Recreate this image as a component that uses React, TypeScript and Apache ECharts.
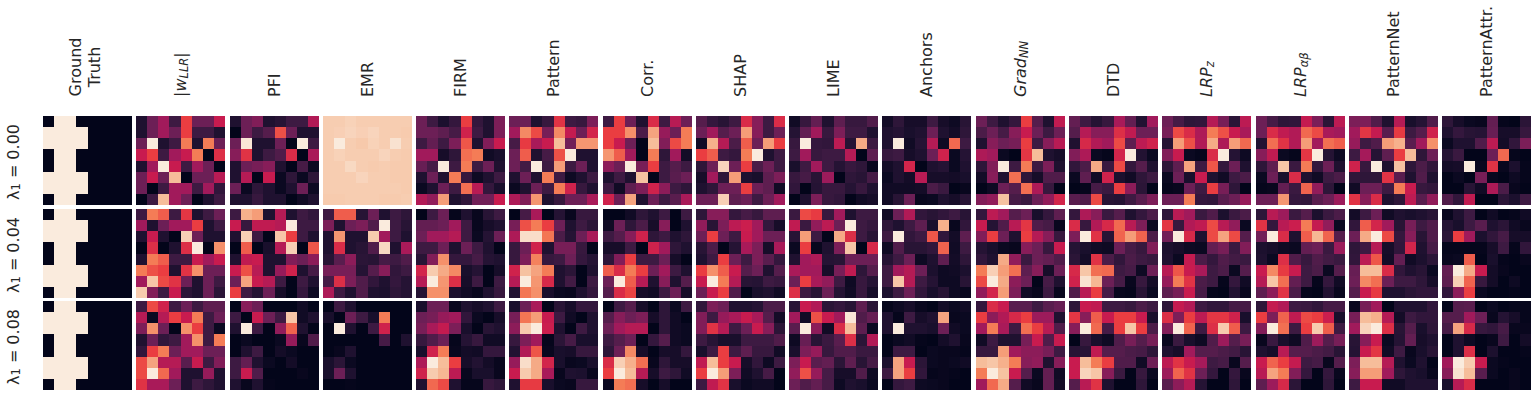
import React, { useEffect, useRef } from "react";
import * as echarts from "echarts";

const rocket = ["#03051a","#1f1130","#3d1a42","#6c1f56","#a11a5b","#c81b4f","#ea3d41","#f47c56","#f6bd9a","#faebdd"];

const groundTruth = [
[0,9,9,0,0,0,0,0],[9,9,9,9,0,0,0,0],[9,9,9,9,0,0,0,0],[0,9,9,0,0,0,0,0],
[0,9,9,0,0,0,0,0],[9,9,9,9,0,0,0,0],[9,9,9,9,0,0,0,0],[0,9,9,0,0,0,0,0]];

const wLLR0=[[1,3,4,2,6,3,3,5],[1,3,4,3,6,2,2,1],[3,9,1,2,7,1,7,3],[5,6,2,4,5,7,0,5.6],[1,4,9,5,2,4,3,0],[3,5,3,8,0,3,3,4.6],[3,0,2,4,4,2,4,1.6],[0,2,8,4,3,0,1,2]];
const wLLR1=[[2,7,6.5,2,5.8,1,2,3],[4,1,3,4,4,6,1,2],[1,5,1,0,8.4,3,1,1],[0,5.6,0,1,5.6,9,0,7.3],[1,7,6.5,2,2,5,4,5],[7,6.3,6,1,5.7,7.3,3,3],[4,8.2,6.2,5.7,3,1,3,2],[8.3,3.4,2,5,1.4,1,3,1.4]];
const wLLR2=[[2,6.2,5.2,2,3,2,2.7,2.7],[4.5,0.3,4.5,6,5,7,2,3],[3.3,7.3,3,0,7.3,6,2,0.3],[1,3,1.6,2,4,7.3,2,7],[1.6,6,7,3,4,4,3,3],[6.2,7.6,4.5,4.5,2.6,5,2,3.4],[6.2,9,6.7,4,1,1,3.8,1],[5.7,4.2,4.2,3,1,2,1.5,1]];
const pfi0=[[1,3,3.4,1,1.3,2,2,4.4],[0,3,2,2.5,6.3,3,1,1],[3,8.9,1,1,3,0,9,2],[3.5,5.7,1,2,2.4,5.5,0,4.2],[1,3,3.2,3.5,1,0,2.2,0.3],[1,4.5,0,5,0.3,1.5,0.3,1.5],[3,0.3,1.5,1,0.3,1,3,0.4],[1,1,1.8,1,1,0,0.5,1]];
const pfi1=[[2,7.8,7.5,1,4.5,1,2,1.6],[5,1.8,4.8,4.8,4.5,9,2,2],[1,8.4,2,0,8.2,6,2,1],[0,6.5,0,0.8,4.5,8.4,0,6.4],[1,4.8,5,1,1,3.4,3,3.6],[5,6.3,4.6,1,3.8,5.2,1,2.2],[3,7.6,5,4.5,2,0,2,1],[6,2,1.2,3,0.7,0,1.7,0.4]];
const pfi2=[[0,3.5,3,0,0,0,0.5,0],[2,0,5,3,2,8.2,0.5,1],[1,9,2,0,3.7,6.6,1,0],[0,0.3,0,0,0.3,3.8,0.2,2.4],[0,1,2,0,0.6,0.3,0,0],[2,2.8,1,0.3,0,0.6,0,0],[2,5,2.4,0,0,0,0.2,0],[1,0.2,1,0.1,0,0,0,0]];
const emr0=[[8.35,8.35,8.45,8.35,8.35,8.35,8.35,8.35],[8.35,8.4,8.5,8.4,8.5,8.35,8.35,8.3],[8.35,9,8.35,8.25,8.45,8.35,8.8,8.35],[8.35,8.45,8.35,8.35,8.35,8.5,8.35,8.3],[8.35,8.35,8.6,8.35,8.3,8.35,8.3,8.3],[8.35,8.35,8.35,8.5,8.35,8.35,8.3,8.3],[8.35,8.35,8.35,8.35,8.35,8.35,8.35,8.3],[8.3,8.3,8.35,8.35,8.35,8.3,8.3,8.35]];
const emr1=[[2,6.5,6.5,1.3,3,1,2,1.5],[3.3,1,3,3.3,2.4,9,2,1.3],[1,7.4,1,1,8.3,4,2,1],[1,5.5,1,1.3,2.4,8.6,1,4.2],[1.3,2.6,3.6,1.4,1.3,2.2,2,2.4],[3.2,3.2,3.2,1.2,2.5,3.5,1.6,2],[2.2,5.6,3.3,2.4,1.6,1,1.7,1.2],[4.3,2,1,2.4,1,0.9,1.5,1.2]];
const emr2=[[0,2,1,0,0,0,0,0],[0.8,0,3,2,0.8,7,0,0],[0,9,1,0,2,5.2,0,0],[0,0,0,0,0,2.2,0,1],[0,0.2,1,0,0,0,0,0],[0.8,1.4,0.3,0,0,0,0,0],[0.8,3,1,0,0,0,0,0],[0,0,0.1,0,0,0,0,0]];
const firm0=[[3,2,0.9,1.7,6,1.7,1,3.3],[3,3,2.7,2.2,5.2,2,1,3.3],[2,2.8,2,3.3,6.4,1,3.4,5],[4,4,0.7,1.5,6.8,7,0.5,0.8],[2.9,2.2,9,2,7,2,3,1],[1,3,1,7,1.7,0.4,1,2],[0.3,1,3,2,6.8,4.6,1.7,0.8],[4.4,3.7,7.5,1,1.6,3.1,3.1,5]];
const firm1=[[0,2,3,0.1,1,0.2,1.3,2],[2.8,2.8,3,4,2,0.2,0.7,1],[3,4,4,4.5,2,0.3,1.2,3],[2,2,3,1,3,2,1,0],[1.3,3.4,7.3,1.7,1.7,2.2,1.2,1],[5.3,8.3,7.7,7.2,0.8,1.2,0,0.7],[4.5,9,7.4,5.6,0.7,2,0,2],[1.2,7.3,7.3,0.9,0.5,0.2,1,1.8]];
const firm2=[[0.8,3,3,0.2,1,0.7,1,2],[3,3.2,3.8,4,1.6,0.3,0,0.7],[3.2,4.2,4.9,3.3,0.8,0,1.3,1],[1.8,2.4,3,0.1,1.2,1.8,0.5,0.5],[0.8,5.2,7,0.2,0.6,0.5,1.7,1.7],[4.3,9,8,6,0.7,1.1,0.6,0.2],[5.2,8.3,7.9,4.7,0.2,0.8,0.8,0.2],[1,6.7,6.2,1,0.1,0.1,1.8,1.5]];
const pattern0=[[3,3,1,1.8,5.7,2,1.8,3.3],[4,7.2,6.2,3.2,7.2,4.9,3,5.3],[2.2,5.9,4.2,5,8,3.1,7.4,7.4],[3,6.5,1,2.2,6.3,9,1,1],[3,2.1,9,2,7.5,2,3,1],[1,3,1,7,2,0.4,1,2],[0.3,1,3,2,7,5.2,1.8,1],[4.3,3.4,7.4,1,1.8,3,3,4.2]];
const pattern1=[[0,2.2,4.2,0,1.2,0.2,1.8,1.8],[3.2,6.3,7,6,3,1,2,1.4],[4.3,8.7,8.7,6.9,2.3,1.2,3,4.2],[1.8,3,5.2,1,3.2,3.2,1.8,0],[1.8,3.3,7.1,1.8,2,3,1.7,1.2],[5.2,8.1,7.6,7,1,1.4,0,1],[4.5,9,7.4,5.4,1,2.1,0,2],[1.1,6.9,7.3,0.8,0.3,0.2,1,1.7]];
const pattern2=[[0.8,3,4.2,0,1.3,0.7,1.7,1.7],[3.2,6.9,7.5,5,2,0.5,0,1],[3.6,8.3,9,5.1,1,0,2,1],[1.8,3.3,4,0.1,1.4,2.2,0.8,0.8],[1.1,4.4,6.4,0.2,0.8,0.7,1.8,1.8],[3.8,8.7,7.7,5.3,0.8,0.2,0.3,0.8],[5,8.3,7.7,4.2,0.2,1,0.9,0.2],[1,5.9,5.9,0.8,0.3,0.2,1.8,1.8]];
const corr0=[[2,6,3,1,5.5,2,4.6,3],[6,6,7.3,2.3,7.6,3.8,3,7],[6,5,3,0,8,3.4,6.2,7],[7.4,6.5,4,0,7,1.5,4,0.6],[3.6,3,9,3.2,6,2,2.5,2],[1,2,1,8.1,0,2,2.6,3],[2,0.5,2.7,3.3,5.2,3.6,2,1.5],[5.2,3,7.6,1,3,2,2.6,4.2]];
const corr1=[[0,0,0.5,1.5,1,2,0,2],[0.5,3,1.5,2.3,0.7,3.5,0,1],[2,2.5,3.5,5.2,1.5,2,1,1.5],[0.7,0.7,2,0,5.2,4,1.5,1],[1.5,3.4,6,2,2,3,0.7,0],[6.5,5.5,7,6,3,4,2,1],[3,9,6.5,4.5,1,3.5,1,2.5],[2.5,5.5,6.1,0.7,0.5,2,3,0.7]];
const corr2=[[0,2,2.5,0.7,0,1.5,0.3,2],[2.5,3.5,3,3.3,0.7,1.5,0.5,0],[3,4,4.5,4.5,0,1.5,0.5,0.3],[2,2.5,3,0,1.7,2.5,0.5,0.3],[1.5,3,7.2,0.7,0,0.7,0.7,1.7],[5.5,8.4,7.8,6.8,0.2,1.5,0.7,0.7],[6,9,8,4.5,0.7,2,1.5,0.5],[0.3,7,6.8,0.7,0,0.7,0,0]];
const shap0=[[2.5,1.7,1.3,2,5.5,3.5,2,5.5],[3,4,2.5,3,7.5,3.5,2,3],[0.5,7.8,4.5,2.3,6.5,3,7.5,6],[6,6.5,2,1.7,7,9,1,2],[1.5,3,8.5,3,6,2.3,3,2],[0.7,4,1.5,7.5,1,0.8,2.7,3.3],[1,1.5,3,3,6,3,2.7,0.5],[3,3,8.4,2.7,3,2,3,4]];
const shap1=[[1.5,3.5,3.5,1.7,2.2,1.8,2.7,2.7],[3.7,1.3,3.3,4.7,5.1,4,1.7,0.7],[3,6,3,2,5,4,3,3],[1.3,2.3,0,1.2,4.2,3.3,0.7,4.2],[1,2,6,3,2,3.3,2.6,1.7],[6,7.3,6.5,5,2.5,3,1,2.5],[5,9,7,4.5,1.3,1.2,2,1.8],[3,5,6,2.4,0,0.8,1,0.5]];
const shap2=[[1.6,3.3,3,1,1,1.2,2.3,2.3],[3.4,2,3.8,4.2,5,4.2,2.5,0.6],[3.4,5.7,4.5,2,3,5,3.5,1.4],[2,1.3,0.8,0.8,2,2,2,2.4],[0.8,2,6,2,2.7,1.8,1.8,0.5],[4.8,8,6,5,0.7,1.6,0.4,2],[6,9,7.5,3.3,0.5,1,2.2,0],[2,4.8,5.7,0.8,0.3,0.5,0.5,0]];
const lime0=[[0.5,1.8,2.8,1,2.7,1.8,1.8,2.4],[1.2,2.8,4,1.8,3.3,2,2,1],[1.8,9,1.7,1.6,4.7,1.2,7.7,2],[2,4,1.8,2,2,4.5,0,2.7],[0.8,2,4,2,1.2,1.8,1.5,0.2],[1.8,2.2,1.3,3.9,0,1.5,1.3,2.2],[1.6,0,1.2,1.8,1.8,1.2,1.8,1],[0,1,3.3,1.8,1.6,0,0.5,0.7]];
const lime1=[[1.9,6.2,5.9,1.8,4,1,2,2],[4.8,1.9,3.7,4.7,3,9,2,1.7],[1.3,7.5,2,0,7.7,5.6,2,1.3],[0.3,6,0.2,1,3.3,8.2,0,5.4],[1,4,4.3,1.2,1.3,3,3,3],[4.2,4,4,0.7,3.2,4.8,1.5,2.5],[3,6,4.2,3.7,2,0.4,1.8,1.2],[5.6,2,1.3,3,1.2,0.5,1.8,0.7]];
const lime2=[[1.3,5,4.4,1.4,1.7,1.3,2.7,1.4],[4,0.5,6.3,5,4,8.9,2.4,2.9],[2.6,9,3.6,0.5,5.5,8,2.7,0.3],[0.4,2.9,1.3,1.9,2.6,5.6,1.4,4.4],[0.8,3.3,3.8,1.8,2.4,2.4,1.9,1.9],[3.3,5,2.6,2.8,1.4,2.7,1.3,2.2],[3.7,6.3,3.8,2.2,0.7,0.7,2.4,0.4],[3,2.4,2.8,2.2,0.4,1,0.8,0.3]];
const anchors0=[[0.6,1.5,0.7,0.7,2,0.7,0.4,1.3],[1,1.2,0.8,1,3,1,0.6,1.5],[1,9,0.5,1.2,4.5,0.4,6.7,2],[1.8,2,0.7,1,3,5.2,0.3,1.2],[0.6,1,5.3,0,1,1.2,0.3,1],[0.3,1,0.6,4.6,0.7,0.7,0.6,0.8],[0.5,0.5,0.5,0.6,2.3,1.9,0,0.2],[0.5,1.3,3,0.2,0.3,1,0.7,1.3]];
const anchors1=[[0.5,3,4.4,1.6,1.3,1.6,2,1.3],[1.5,1,2,2.7,0.8,7.8,0.2,1.6],[2,9,1.6,2,6.4,1.6,0.6,2.7],[0.4,2.4,1.3,1.3,1.6,6.6,0.5,2],[1.2,2,3,0.4,1,2.7,0.6,1.5],[2,4,4.5,3,0.9,0.4,0.5,0.9],[2,8.2,4.5,2,1.2,0.4,0.4,1.3],[0.9,2,3,1.6,0.8,1.3,0.4,0.2]];
const anchors2=[[0.1,0.4,0.7,0.2,0,0.6,0.3,0.5],[1,0.1,2,0.7,1,7.6,0.2,0.3],[1,9,1,1,0.8,3,0.5,0.3],[0,0.3,0.5,0.1,0,0.6,1,0.2],[0,2,2,0,0.3,0.2,0.2,0.1],[0.9,7.6,5,1.4,0.3,0.2,0.3,0.5],[2,7.6,6,1.6,0.1,0.2,0.1,0],[0,1.7,2,0.4,0.3,0.2,0,0]];
const grad0=[[3,2,1,1.7,6,2.5,1,4.8],[2.3,3,2.2,3.5,5,3,2,3],[1,3.5,3,3.2,6,2,3.5,4.6],[4.3,4,0.3,0,5.8,8,1,0.7],[1.5,3.4,9,2,7,2,3.3,1],[0.6,3.5,1,6.8,1.5,0.7,2.4,2.4],[0,0.4,3,2.5,6.8,4.3,1.8,0],[3.4,3.7,8.1,2.2,1.9,3,3.7,5.3]];
const grad1=[[1.7,4.7,4,2.5,3,0.8,1.7,2.7],[5,1.2,2.4,4.6,5.8,2.4,2.2,0.2],[3.4,6,3,1,6,4.5,3.5,1.8],[1.2,0.8,0.3,0.2,3.5,3,1.8,5],[1.6,1,7.7,3.7,1.9,3,2.8,2.4],[7,8.4,7.5,6.8,2.7,3.5,0.7,3],[6.2,9,7.7,3.6,3,0,2.2,1],[3.7,5.3,7.5,3.3,0.5,0.2,2,0.2]];
const grad2=[[1.7,5.5,5,2.6,2.6,2,2.6,2.9],[6,3.6,4.4,5.4,6,3.9,3.9,1],[4,7,4.2,2,6.8,6,4.6,2.4],[0.5,2,1,1,3.2,5,2.4,5],[1.8,1.8,7.5,4,3.6,3.6,3.2,2],[8,8.2,7.8,7,3.5,3.7,1,3.5],[7,9,8.1,5,2.5,0.3,2.8,0.5],[4,6.7,7.7,2.5,0.5,0.2,2.8,0.6]];
const dtd0=[[2.8,2,1.2,1.8,4.2,2.8,1.1,4],[2.5,4.5,3.5,3.5,5.6,4.8,3,3],[1,5.4,4.4,4,6.2,2.7,4.7,5.2],[3.4,4.3,0.3,0.1,5.3,9,1.1,0.3],[1.6,2.3,7.7,1.9,6.2,1.7,2.5,1],[0.3,2.7,0.5,5.2,0.9,0.5,1.5,2],[0,0.1,2.2,1.9,6,3.6,1.4,0],[2.6,2.4,6.2,1.3,1.2,2,2.6,3.3]];
const dtd1=[[1.7,4.3,3.5,1.9,2.5,1,1.7,2.3],[5.5,1.8,4.4,5.4,6.7,4.6,3.3,0.3],[3.3,9,5.7,1.3,6.6,7.5,6.6,2.3],[1.2,0.8,0.5,0.4,3,2.2,1.8,3.4],[1.4,0.6,5.7,2.3,1.6,2.3,2,1.8],[5.4,8.2,6.8,6.7,2,2.2,0.4,3],[5.2,8.8,7.9,3,2.2,0.2,1.8,0.6],[2.4,4.6,6,2.2,0.2,0.1,1.3,0.3]];
const dtd2=[[1.5,5,4.8,2,2,1.8,2.3,2],[5.8,3.5,6.5,5,6,6,5,0.8],[3.5,9,6.7,2.2,6,8.2,6,2.3],[0,1.8,0.8,0.4,2.4,3.2,2.5,3.2],[1.3,1.3,4.8,2.5,2.5,2.3,2.2,1.5],[5,8,7,6,2.4,2.4,0.5,3],[5,8.5,8.2,3.5,1.9,0,1.8,0.3],[2.5,4.6,5.7,1,0,0,1.5,0]];
const lrpz0=[[3,2.2,1.5,1.6,4.5,3.2,1.4,4.7],[3.2,6.2,5.5,4.3,7,6.3,5,4.2],[1.2,7.5,6.3,4.4,7.7,4.3,7.5,6.7],[3.4,5,0.3,0.1,5.5,9,1.2,0.4],[1.5,2.7,7.6,2,6.4,1.7,3,1],[0.3,3,0.8,5,1,0.5,2,2.3],[0.1,0.2,3,2,6,3.2,1.5,0],[3,3,7,1.7,1.6,2.6,3,3.8]];
const lrpz1=[[1.5,4.6,4,1.9,2.4,0.9,1.9,2.3],[5.8,1.8,4.4,4.8,6.2,4.6,3.7,0.3],[3.1,9,5.4,1,6.2,7.6,6.2,2.5],[0.9,0.7,0.4,0.3,2.8,3.2,1.9,3.4],[1,0.3,4.9,2.3,1.7,2.4,2.1,1.9],[4.6,6.4,5,4.2,2,2.3,0.3,2.5],[3.8,7,5.7,2.3,2,0.1,1.7,0.5],[2.7,3.2,5,2.2,0.1,0,1.1,0.2]];
const lrpz2=[[1.5,4.9,4.4,2,1.6,1.6,2.2,2.2],[5.6,3.3,6,4.7,5.8,5.8,5.2,0.8],[3.4,9,6.6,2,5.6,8.3,6.5,2],[0.2,1.9,0.8,0.4,2.4,3.9,2.5,3.2],[1,0.7,4,2.5,2.5,2.3,2.1,1.3],[4.7,5.7,5,4.1,2,2.2,0.2,2.5],[3.9,6.6,5.7,3,1.7,0,1.7,0.2],[2.6,3.6,4.5,1.2,0,0,1.5,0]];
const lrpab0=[[3,2.2,1.5,1.6,4.9,3.3,1.4,4.7],[3,5.5,4.8,4.4,6.7,6.2,4.2,4],[1.1,6.8,5.7,4.4,7.5,4,6.8,6.5],[3.5,4.8,0.3,0.1,5.8,9,1.2,0.4],[1.5,2.7,8.2,1.9,7,1.7,3,1],[0.3,3,0.8,5.5,1,0.5,2,2.3],[0.1,0.2,2.8,1.9,6.6,3.7,1.5,0],[3,3,7.4,1.7,1.6,2.6,3,3.9]];
const lrpab1=[[1.5,4.6,3.9,1.9,2.5,0.9,1.9,2.3],[5.7,1.7,4.6,5.1,7,4.9,3.7,0.3],[3.1,9,5.5,1,6.5,7.9,6.6,2.5],[0.9,0.7,0.4,0.3,2.8,3,1.9,3.9],[1,0.3,5.6,2.4,1.8,2.4,2.1,1.9],[5,7.2,5.9,5,2,2.3,0.3,2.5],[4.5,8.2,6.8,2.8,2,0.1,1.7,0.5],[2.7,3.6,5.7,2.3,0.1,0,1.1,0.2]];
const lrpab2=[[1.5,4.9,4.4,2,1.9,1.6,2.2,2.2],[6,3.3,6.6,4.8,6.2,6,5.1,0.8],[3.4,9,6.8,2,6,8.3,6.5,2],[0.2,1.9,0.8,0.4,2.4,3.9,2.5,3.2],[1,0.7,4.6,2.5,2.5,2.3,2.1,1.3],[5,6.6,6,4.9,2,2.2,0.2,2.5],[4.6,7.6,7,3.4,1.7,0,1.7,0.2],[2.7,3.9,5.4,1.4,0,0,1.5,0]];
const pnet0=[[3.3,3.3,2.4,1,4.5,0.8,1.2,2.4],[4,5.8,4.9,2.6,5.9,2,2.5,5.2],[3.8,2,2.4,7.5,7.8,2.6,4,7.3],[2,4.1,1.2,2.7,6,8,1.5,3],[5.2,1.8,9,1,8.1,1.5,2.3,1.6],[1.5,1.5,1.5,5.7,2.6,1,2.4,1],[0.5,3,3,2,7,5,1.8,1.6],[5.7,3.5,5.5,1,1.5,4.7,2.6,3.7]];
const pnet1=[[0.6,2,3,0.5,1,0.8,1,1.3],[1.6,6.5,5.3,4,1.3,3.2,2,2.4],[3,7.7,9,6.2,1.7,3.5,1.3,2.4],[1.5,2,4.5,0.7,1.6,5.3,1,2.2],[1.6,4.7,6.4,0.6,2.8,0.5,0.9,1.4],[2.9,8,8,5.5,1.6,1,1.3,0.3],[3,7.2,6.8,3,2,2,1.5,0.7],[2.5,5,5.9,1,1,1.4,1.6,1.6]];
const pnet2=[[0.2,3.2,4,0,1,1,1,1.6],[3.2,8,7.8,4.5,0.6,2,1.6,1.6],[4,8.5,9,5.6,1.3,2.5,0.8,1.5],[1.3,3.5,5,0.3,1.2,2.8,0.7,1],[1.2,5,5.8,0.5,2,0.2,0.8,1.3],[3.3,8,8,4.5,1,0.3,1,0],[3.5,7.5,7.5,4,1.5,1,0.8,0.2],[2,5,5,0.5,0.5,1,1,1]];
const pattr0=[[1.5,0.7,0.3,0.2,2.8,0.1,0,1.4],[1,1.7,1.3,1.2,2.9,0.7,0.7,1.8],[0.3,1,1,2.4,4.7,0.6,1.6,3.3],[1.2,1.9,0,0,3,6.7,0.1,0],[0.6,0.7,9,0.2,5.7,0.2,0.9,0.1],[0,0.3,0,3.2,0.2,0,0.4,0.1],[0,0,1.3,0.5,4.3,2.3,0.2,0],[2.4,1.6,4.8,0,0,1.4,0.9,2]];
const pattr1=[[0.2,1,2,0,0.5,0,0.1,0.5],[1.2,0.8,2,2.6,1,1.4,0.5,0.2],[1.4,6,4,0.9,1.6,2.2,0.7,0.7],[0.1,0.1,0.1,0.1,0.7,2,0.1,1.6],[0.2,0.3,6.5,0,0.8,0.1,0,0.2],[2.8,9,7.7,5,0.6,0.2,0,0],[2.7,8.4,6.6,1.8,0.6,0,0.4,0],[1.6,3.6,6,0.3,0,0,0.1,0]];
const pattr2=[[0,2.5,2.6,0,0.3,0,0.1,0.1],[2.5,2.5,4,3,0.2,1.2,0.7,0.1],[2.2,7.6,5.4,1.8,1.6,2.2,0.2,0.2],[0,1,0.4,0,0.2,2,0,0.6],[0,1,5.6,0,0.9,0,0,0.1],[4,9,8.3,5,0.3,0.1,0,0],[3.5,8.8,8,2.6,0.3,0,0.2,0],[0.8,4.5,5.5,0,0,0,0.2,0]];

const panels = [
  [groundTruth, groundTruth, groundTruth],
  [wLLR0, wLLR1, wLLR2], [pfi0, pfi1, pfi2], [emr0, emr1, emr2], [firm0, firm1, firm2],
  [pattern0, pattern1, pattern2], [corr0, corr1, corr2], [shap0, shap1, shap2], [lime0, lime1, lime2],
  [anchors0, anchors1, anchors2], [grad0, grad1, grad2], [dtd0, dtd1, dtd2], [lrpz0, lrpz1, lrpz2],
  [lrpab0, lrpab1, lrpab2], [pnet0, pnet1, pnet2], [pattr0, pattr1, pattr2],
];

const columnTitles = [
  "Ground\nTruth", "|{i|w}{si|LLR}|", "PFI", "EMR", "FIRM", "Pattern", "Corr.", "SHAP", "LIME", "Anchors",
  "{i|Grad}{si|NN}", "DTD", "{i|LRP}{si|z}", "{i|LRP}{si|αβ}", "PatternNet", "PatternAttr.",
];
const rowValues = ["0.00", "0.04", "0.08"];
const cells = [0, 1, 2, 3, 4, 5, 6, 7];

const FONT = '"DejaVu Sans"';
const TEXT = "#262626";

const renderCell = (_: any, api: any) => {
  const [cx, cy] = api.coord([api.value(0), api.value(1)]);
  const [w, h] = api.size([1, 1]);
  const x0 = Math.round(cx - w / 2), x1 = Math.round(cx + w / 2);
  const y0 = Math.round(cy - h / 2), y1 = Math.round(cy + h / 2);
  return {
    type: "rect",
    shape: { x: x0, y: y0, width: x1 - x0, height: y1 - y0 },
    style: { fill: api.visual("color"), stroke: "none" },
  };
};

export default function App() {
  const ref = useRef<HTMLDivElement>(null);
  useEffect(() => {
    document.body.style.margin = "0";
    const chart = echarts.init(ref.current!, null, { renderer: "svg" });
    const left0 = 43, stepX = 93.27, top0 = [116, 209, 301], size = 89;
    const grid: any[] = [], xAxis: any[] = [], yAxis: any[] = [], series: any[] = [];
    panels.forEach((rows, c) => rows.forEach((m, r) => {
      const i = grid.length;
      grid.push({ left: Math.round(left0 + c * stepX), top: top0[r], width: size, height: size });
      xAxis.push({ type: "category", gridIndex: i, data: cells, show: false });
      yAxis.push({ type: "category", gridIndex: i, data: cells, inverse: true, show: false });
      series.push({
        type: "custom", xAxisIndex: i, yAxisIndex: i, silent: true, coordinateSystem: "cartesian2d",
        renderItem: renderCell,
        encode: { x: 0, y: 1 },
        data: m.flatMap((row, y) => row.map((v, x) => [x, y, v])),
      });
    }));
    const rich = {
      i: { fontFamily: FONT, fontSize: 16, fontStyle: "italic", fill: TEXT, color: TEXT },
      si: { fontFamily: FONT, fontSize: 11.5, fontStyle: "italic", fill: TEXT, color: TEXT, verticalAlign: "bottom", padding: [5, 0, 0, 0] },
      s: { fontFamily: FONT, fontSize: 11.5, fill: TEXT, color: TEXT, verticalAlign: "bottom", padding: [5, 0, 0, 0] },
    };
    const titles = columnTitles.map((t, c) => {
      const multi = t.includes("\n");
      return {
        type: "text", silent: true,
        x: Math.round(left0 + c * stepX) + size / 2 - (multi ? 2.5 : 0),
        y: multi ? 67 : 97,
        rotation: Math.PI / 2,
        style: {
          text: t, fontFamily: FONT, fontSize: 16, fill: TEXT, ...(multi ? {} : { rich }),
          textAlign: multi ? "center" : "left", textVerticalAlign: "middle", lineHeight: 19,
        },
      };
    });
    const rowLabels = rowValues.map((v, r) => ({
      type: "text", silent: true,
      x: 13, y: top0[r] + size / 2 + 1.5,
      rotation: Math.PI / 2,
      style: {
        text: `λ{s|1} = ${v}`, fontFamily: FONT, fontSize: 16, fill: TEXT, rich,
        textAlign: "center", textVerticalAlign: "middle",
      },
    }));
    chart.setOption({
      animation: false,
      backgroundColor: "#ffffff",
      grid, xAxis, yAxis, series,
      visualMap: {
        show: false, type: "continuous", min: 0, max: 9, dimension: 2,
        seriesIndex: series.map((_, i) => i),
        inRange: { color: rocket },
      },
      graphic: [...titles, ...rowLabels],
    });
    return () => chart.dispose();
  }, []);
  return <div ref={ref} style={{ width: 1533, height: 396 }} />;
}
